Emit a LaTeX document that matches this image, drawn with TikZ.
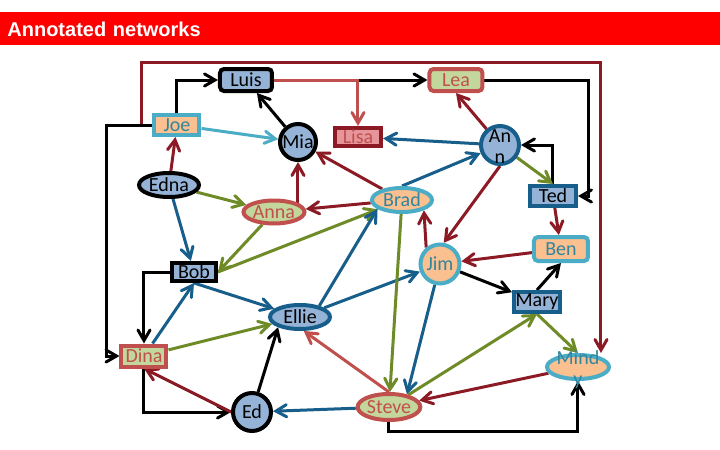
\documentclass[tikz,border=0pt]{standalone}
\usepackage{fontspec}
\setmainfont{Carlito}
\newfontfamily\titlefont{Liberation Sans}
\usepackage{tikz}
\usetikzlibrary{shapes.geometric, arrows, positioning, backgrounds}

\definecolor{nodeblue}{RGB}{149,179,215}
\definecolor{nodeorange}{RGB}{250,192,144}
\definecolor{nodegreen}{RGB}{195,214,155}
\definecolor{nodepink}{RGB}{230,150,155}
\definecolor{accred}{RGB}{192,80,77}
\definecolor{acccyan}{RGB}{75,172,198}
\definecolor{accteal}{RGB}{49,133,156}
\definecolor{linkred}{RGB}{140,26,36}
\definecolor{linkblue}{RGB}{23,94,138}
\definecolor{linkgreen}{RGB}{110,139,40}
\definecolor{titlered}{RGB}{255,0,0}

\tikzstyle{person} = [line width=2pt, inner sep=0pt, text centered, font=\fontsize{10}{10.5}\selectfont]
\tikzstyle{boxnode} = [person, rectangle, minimum width=23pt, minimum height=10pt]
\tikzstyle{ovalnode} = [person, ellipse, minimum width=30pt, minimum height=12pt]
\tikzstyle{roundnode} = [person, circle, minimum size=19pt]
\tikzstyle{bluebox} = [boxnode, fill=nodeblue, text=black]
\tikzstyle{orangebox} = [boxnode, fill=nodeorange, text=accteal, draw=acccyan]
\tikzstyle{greenbox} = [boxnode, fill=nodegreen, text=accred, draw=accred]
\tikzstyle{pinkbox} = [boxnode, fill=nodepink, text=accred, draw=linkred]
\tikzstyle{blueoval} = [ovalnode, fill=nodeblue, text=black]
\tikzstyle{orangeoval} = [ovalnode, fill=nodeorange, text=accteal, draw=acccyan]
\tikzstyle{greenoval} = [ovalnode, fill=nodegreen, text=accred, draw=accred]
\tikzstyle{bluecircle} = [roundnode, fill=nodeblue, text=black]
\tikzstyle{orangecircle} = [roundnode, fill=nodeorange, text=accteal, draw=acccyan]
\tikzstyle{titlebar} = [rectangle, fill=titlered, text=white, anchor=north west, minimum width=360pt, minimum height=16.5pt, text width=353pt, inner xsep=3.5pt, align=left, font=\titlefont\bfseries\fontsize{10}{12}\selectfont]
\tikzstyle{arrow} = [line width=1.5pt,->,>=angle 60]

\newcommand{\twolines}[2]{\smash{\raisebox{-4.5pt}{\begin{tabular}{@{}c@{}}#1\\#2\end{tabular}}}}

\begin{document}
\begin{tikzpicture}[node distance=30pt]
\useasboundingbox (0,0) rectangle (360pt,-225pt);

\node (title) [titlebar] at (0,-6pt) {Annotated networks};

% top row
\node (luis) [bluebox, draw=black, rounded corners=2pt, minimum width=26pt, minimum height=11pt] at (123pt,-40pt) {Luis};
\node (lea) [greenbox, rounded corners=2pt, minimum width=26.5pt, minimum height=11pt, right of=luis, xshift=75pt] {Lea};
\node (joe) [orangebox, minimum width=22.5pt, right of=luis, xshift=-64.5pt, yshift=-22.5pt] {Joe};
\node (mia) [bluecircle, draw=black, minimum size=18pt, below of=luis, xshift=26pt, yshift=-1pt] {Mia};
\node (lisa) [pinkbox, minimum height=9pt, right of=mia, yshift=2.5pt] {Lisa};
\node (ann) [bluecircle, draw=linkblue, below of=lea, xshift=22pt, yshift=-2.5pt] {\twolines{An}{n}};

% middle
\node (edna) [blueoval, draw=black, below of=joe, xshift=-4pt] {Edna};
\node (anna) [greenoval, minimum width=30.5pt, minimum height=11.5pt, below of=mia, xshift=-12pt, yshift=-5pt] {Anna};
\node (brad) [orangeoval, right of=anna, xshift=34pt, yshift=6pt] {Brad};
\node (ted) [bluebox, draw=linkblue, below of=ann, xshift=26.5pt, yshift=4.5pt] {Ted};
\node (ben) [orangebox, rounded corners=2pt, minimum width=27pt, minimum height=12pt, below of=ted, xshift=4pt, yshift=3.5pt] {Ben};
\node (jim) [orangecircle, minimum size=19.5pt, below of=brad, xshift=19pt, yshift=-2pt] {Jim};
\node (bob) [bluebox, draw=black, minimum width=22pt, minimum height=9pt, below of=edna, xshift=12.5pt, yshift=-13.5pt] {Bob};
\node (mary) [bluebox, draw=linkblue, below of=ben, xshift=-12pt, yshift=3.5pt] {Mary};
\node (ellie) [blueoval, draw=linkblue, below of=anna, xshift=13pt, yshift=-22.5pt] {Ellie};

% bottom
\node (dina) [greenbox, minimum width=22.5pt, minimum height=10.5pt, below of=bob, xshift=-25pt, yshift=-12pt] {Dina};
\node (mindy) [orangeoval, minimum width=31pt, below of=mary, xshift=20.5pt, yshift=-2.5pt] {\twolines{Mind}{y}};
\node (ed) [bluecircle, draw=black, below of=ellie, xshift=-24pt, yshift=-17.5pt] {Ed};
\node (steve) [greenoval, minimum width=30.5pt, minimum height=13pt, right of=ed, xshift=38.5pt, yshift=2.5pt] {Steve};

\begin{scope}[on background layer]
% links going round the outside
\draw [arrow, linkred] (joe.west) -- ++(-5.5pt,0) -- ++(0,31.5pt) -| ([xshift=11.5pt]mindy.north);
\draw [arrow] (joe.west) -- ++(-23pt,0) |- (dina.west);
\draw [arrow] (joe.north) |- (luis.west);
\draw [arrow] (luis) -- (lea);
\draw [arrow, accred] (luis.east) -| (lisa.north);
\draw [arrow] (lea.east) -| ([xshift=5.5pt]ted.east) -- (ted.east);
\draw [arrow] (ted.north) |- (ann.east);
\draw [arrow] (bob.west) -| (dina.north);
\draw [arrow] (dina.south) |- (ed.west);
\draw [arrow] (steve.south) -- ++(0,-4.5pt) -| (mindy.south);

% straight links
\draw [arrow] (mia) -- (luis);
\draw [arrow, acccyan] (joe) -- (mia);
\draw [arrow, linkred] (edna) -- (joe);
\draw [arrow, linkgreen] (edna) -- (anna);
\draw [arrow, linkblue] (edna) -- (bob);
\draw [arrow, linkred] (anna.center -| mia) -- (mia);
\draw [arrow, linkred] (brad) -- (mia);
\draw [arrow, linkred] (brad) -- (anna);
\draw [arrow, linkblue] (brad.north) -- (ann);
\draw [arrow, linkblue] (ann) -- (lisa);
\draw [arrow, linkred] (ann) -- (lea.south);
\draw [arrow, linkgreen] (ann) -- (ted.north);
\draw [arrow, linkred] (ann.south) -- (jim.80);
\draw [arrow, linkred] (ted) -- (ben);
\draw [arrow, linkred] (ben) -- (jim);
\draw [arrow, linkred] (jim.130) -- (brad.-25);
\draw [arrow] (jim) -- (mary);
\draw [arrow] (mary.north) -- (ben.south);
\draw [arrow, linkgreen] (mary.south) -- (mindy.north);
\draw [arrow, linkred] (mindy) -- (steve);
\draw [arrow, linkgreen] (anna) -- (bob.east);
\draw [arrow, linkgreen] (bob.east) -- (brad);
\draw [arrow, linkblue] (dina) -- (bob.south);
\draw [arrow, linkblue] (bob.south) -- (ellie);
\draw [arrow, linkgreen] (dina) -- (ellie);
\draw [arrow, linkred] (ed.west) -- (dina.south);
\draw [arrow] (ed) -- (ellie.205);
\draw [arrow, linkblue] (ellie.30) -- (brad.200);
\draw [arrow, linkblue] (ellie) -- (jim);
\draw [arrow, linkgreen] (brad) -- (steve);
\draw [arrow, linkblue] (jim) -- (steve.35);
\draw [arrow, linkgreen] (steve) -- (mary.south);
\draw [arrow, accred] (steve.north) -- (ellie.-75);
\draw [arrow, linkblue] (steve) -- (ed);
\end{scope}

\end{tikzpicture}
\end{document}
